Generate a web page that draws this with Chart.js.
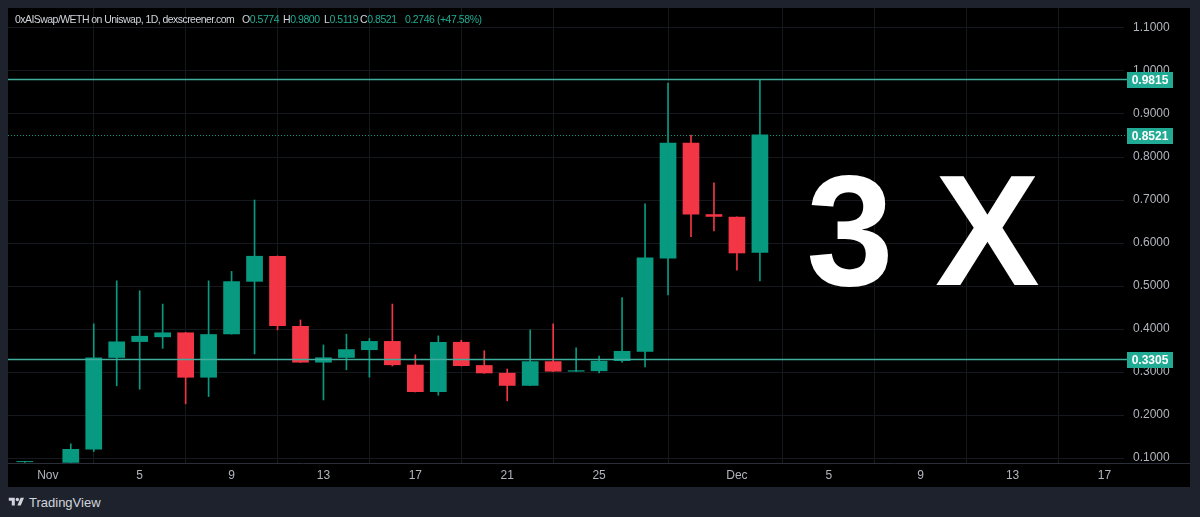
<!DOCTYPE html>
<html>
<head>
<meta charset="utf-8">
<title>0xAISwap/WETH 1D</title>
<script src="https://cdn.jsdelivr.net/npm/chart.js@4.4.1/dist/chart.umd.min.js"></script>
<style>
  html, body { margin: 0; padding: 0; width: 1200px; height: 517px; overflow: hidden;
               background: #1e222d; font-family: "Liberation Sans", Arial, sans-serif; }
  #frame { position: absolute; left: 8px; top: 8px; width: 1182px; height: 479px; background: #000; overflow: hidden; }
  #c { position: absolute; left: 0; top: 0; }
  .legend { position: absolute; top: 5px; font-size: 10.5px; letter-spacing: -0.45px; color: #d1d4dc; white-space: pre; }
  .legend .v { color: #22ab94; }
  #big { position: absolute; left: 715px; top: 144px; width: 400px; text-align: center; word-spacing: -2px;
         font-size: 157px; line-height: 157px; font-weight: bold; color: #fff; white-space: pre; }
  #brand { position: absolute; left: 8px; top: 494px; height: 16px; display: flex; align-items: center;
           color: #d1d4dc; font-size: 13px; }
  #brand svg { margin-right: 4px; }
</style>
</head>
<body>
<div id="frame">
  <canvas id="c" width="1182" height="479"></canvas>
  <div class="legend" style="left:7px; letter-spacing:-0.55px">0xAISwap/WETH on Uniswap, 1D, dexscreener.com</div>
  <div class="legend" style="left:234px">O<span class="v">0.5774</span></div>
  <div class="legend" style="left:275px">H<span class="v">0.9800</span></div>
  <div class="legend" style="left:316px">L<span class="v">0.5119</span></div>
  <div class="legend" style="left:352px">C<span class="v">0.8521</span></div>
  <div class="legend" style="left:397px"><span class="v">0.2746 (+47.58%)</span></div>
  <div id="big">3 X</div>
</div>
<div id="brand">
  <svg width="17" height="12" viewBox="0 0 36 28"><path d="M14 22H7V11H0V4h14v18zM28 22h-8l7.5-18h8L28 22z" fill="#d1d4dc"/><circle cx="20" cy="8" r="4" fill="#d1d4dc"/></svg>
  <span>TradingView</span>
</div>
<script>
// Daily candles: day number counted from Nov 1 (Oct 31 = 0, Dec 1 = 31)
const days   = [0, 2, 3, 4, 5, 6, 7, 8, 9, 10, 11, 12, 13, 14, 15, 16, 17, 18, 19, 20, 21, 22, 23, 24, 25, 26, 27, 28, 29, 30, 31, 32];
const opens  = [0.0905, 0.089, 0.120, 0.333, 0.370, 0.381, 0.392, 0.287, 0.388, 0.510, 0.570, 0.407, 0.322, 0.333, 0.351, 0.372, 0.317, 0.2535, 0.370, 0.316, 0.298, 0.268, 0.325, 0.301, 0.302, 0.3256, 0.347, 0.564, 0.833, 0.667, 0.661, 0.5774];
const highs  = [0.0920, 0.133, 0.412, 0.512, 0.489, 0.458, 0.392, 0.512, 0.534, 0.700, 0.570, 0.421, 0.363, 0.388, 0.378, 0.458, 0.340, 0.384, 0.374, 0.3495, 0.307, 0.398, 0.412, 0.3565, 0.337, 0.473, 0.691, 0.972, 0.851, 0.740, 0.661, 0.9800];
const lows   = [0.0900, 0.088, 0.115, 0.268, 0.260, 0.355, 0.226, 0.243, 0.388, 0.342, 0.398, 0.322, 0.235, 0.305, 0.288, 0.314, 0.2535, 0.246, 0.314, 0.297, 0.233, 0.268, 0.301, 0.301, 0.298, 0.323, 0.312, 0.479, 0.615, 0.628, 0.537, 0.5119];
const closes = [0.0915, 0.121, 0.334, 0.371, 0.384, 0.392, 0.287, 0.388, 0.511, 0.570, 0.407, 0.322, 0.334, 0.353, 0.372, 0.316, 0.2535, 0.370, 0.314, 0.297, 0.268, 0.325, 0.301, 0.304, 0.326, 0.349, 0.566, 0.833, 0.666, 0.661, 0.576, 0.8521];

// Time axis
const tickDays   = [1, 5, 9, 13, 17, 21, 25, 31, 35, 39, 43, 47];
const tickLabels = ['Nov', '5', '9', '13', '17', '21', '25', 'Dec', '5', '9', '13', '17'];

// Price axis
const priceTicks = [0.1, 0.2, 0.3, 0.4, 0.5, 0.6, 0.7, 0.8, 0.9, 1.0, 1.1];
const levelLines = [0.9815, 0.3305];
const lastPrice  = 0.8521;

const UP = '#089981', DOWN = '#f23645', LEVEL = '#22ab94', LINE = '#3fae9c';
const candleColors = days.map((d, i) => closes[i] >= opens[i] ? UP : DOWN);

// Horizontal levels, last-price line and their price-axis badges
const levelsPlugin = {
  id: 'levels',
  afterDraw(chart) {
    const { ctx, chartArea: a, scales: { y } } = chart;
    const badgeX = a.right + 3, badgeW = 46, badgeH = 16;
    const draw = (value, dashed) => {
      const py = Math.round(y.getPixelForValue(value)) + 0.5;
      ctx.save();
      ctx.strokeStyle = dashed ? UP : LINE;
      ctx.lineWidth = dashed ? 1 : 1.5;
      if (dashed) ctx.setLineDash([1, 2]);
      ctx.beginPath();
      ctx.moveTo(a.left, py);
      ctx.lineTo(badgeX, py);
      ctx.stroke();
      ctx.setLineDash([]);
      ctx.fillStyle = LEVEL;
      ctx.fillRect(badgeX, Math.round(py - badgeH / 2), badgeW, badgeH);
      ctx.fillStyle = '#ffffff';
      ctx.font = 'bold 12px "Liberation Sans", Arial, sans-serif';
      ctx.textAlign = 'center';
      ctx.textBaseline = 'middle';
      ctx.fillText(value.toFixed(4), badgeX + badgeW / 2, py + 1);
      ctx.restore();
    };
    levelLines.forEach(v => draw(v, false));
    draw(lastPrice, true);
    // time-axis separator across the full width
    ctx.save();
    ctx.strokeStyle = '#2a2e39';
    ctx.lineWidth = 1;
    ctx.beginPath();
    ctx.moveTo(0, Math.round(a.bottom) + 0.5);
    ctx.lineTo(chart.width, Math.round(a.bottom) + 0.5);
    ctx.stroke();
    ctx.restore();
  }
};

new Chart(document.getElementById('c'), {
  type: 'bar',
  data: {
    datasets: [
      {
        label: 'wick',
        data: days.map((d, i) => ({ x: d, y: [lows[i], highs[i]] })),
        backgroundColor: candleColors,
        barThickness: 1,
        grouped: false,
        borderWidth: 0
      },
      {
        label: 'body',
        data: days.map((d, i) => ({ x: d, y: [opens[i], closes[i]] })),
        backgroundColor: candleColors,
        categoryPercentage: 1,
        barPercentage: 0.727,
        grouped: false,
        borderWidth: 0,
        minBarLength: 1
      }
    ]
  },
  options: {
    responsive: false,
    animation: false,
    layout: { padding: 0 },
    plugins: { legend: { display: false }, tooltip: { enabled: false } },
    scales: {
      x: {
        type: 'linear',
        min: -0.733,
        max: 47.85,
        offset: false,
        grid: { color: '#15181c', drawTicks: false },
        border: { display: false },
        afterBuildTicks: s => { s.ticks = tickDays.map(v => ({ value: v })); },
        afterFit: s => { s.height = 24; s.paddingLeft = 0; s.paddingRight = 0; },
        ticks: {
          autoSkip: false,
          maxRotation: 0,
          padding: 5,
          color: '#b2b5be',
          font: { family: '"Liberation Sans", Arial, sans-serif', size: 12 },
          callback: (v) => tickLabels[tickDays.indexOf(v)]
        }
      },
      y: {
        type: 'linear',
        position: 'right',
        min: 0.0884,
        max: 1.1465,
        grid: { color: '#15181c', drawTicks: false },
        border: { display: false },
        afterBuildTicks: s => { s.ticks = priceTicks.map(v => ({ value: v })); },
        afterFit: s => { s.width = 66; s.paddingTop = 0; s.paddingBottom = 0; },
        ticks: {
          padding: 9,
          color: '#b2b5be',
          font: { family: '"Liberation Sans", Arial, sans-serif', size: 12 },
          callback: (v) => Number(v).toFixed(4)
        }
      }
    }
  },
  plugins: [levelsPlugin]
});
</script>
</body>
</html>
